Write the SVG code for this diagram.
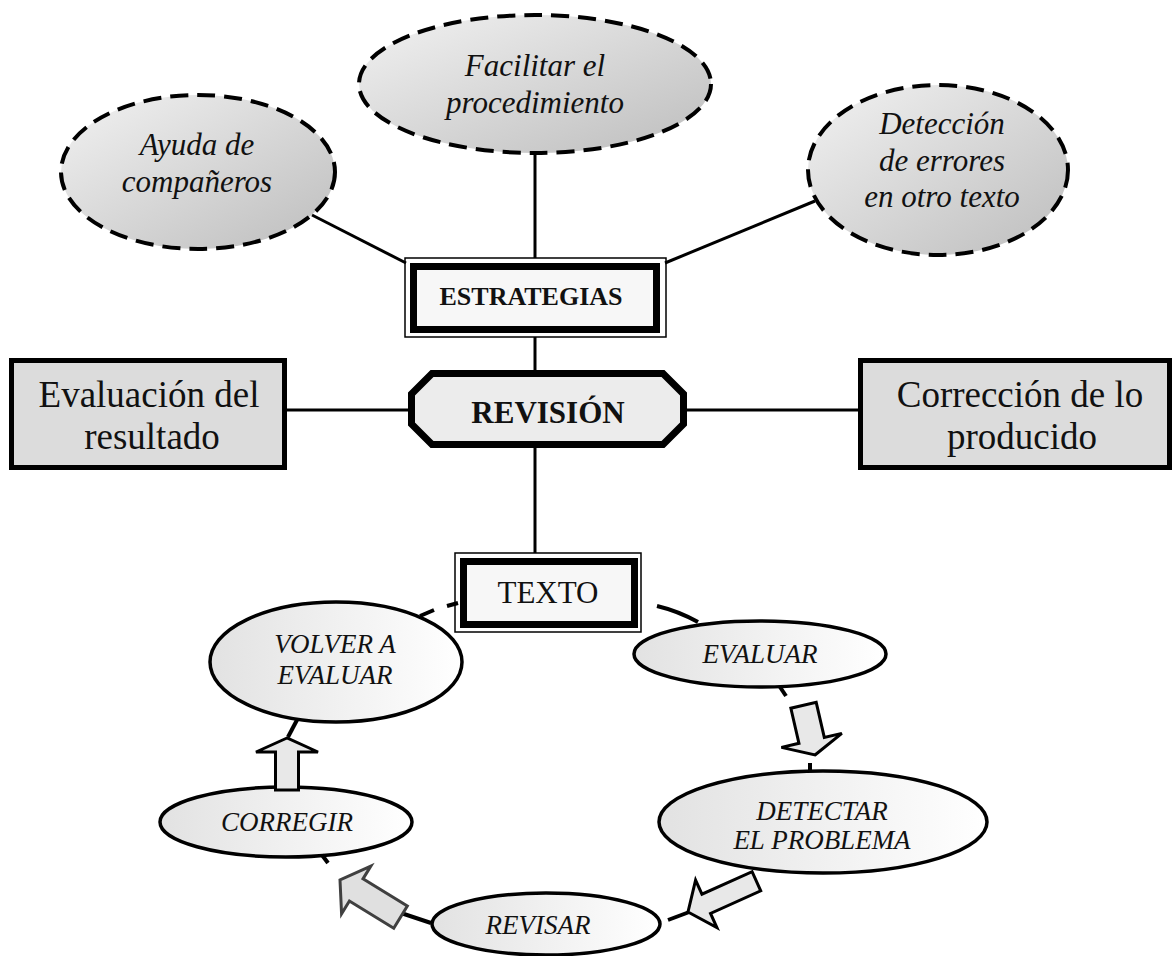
<svg xmlns="http://www.w3.org/2000/svg" width="1174" height="956" viewBox="0 0 1174 956">
<defs>
<linearGradient id="gTop" x1="0" y1="0" x2="1" y2="1">
<stop offset="0" stop-color="#f2f2f2"/>
<stop offset="1" stop-color="#bdbdbd"/>
</linearGradient>
<linearGradient id="gCyc" x1="0" y1="0" x2="1" y2="0">
<stop offset="0" stop-color="#e2e2e2"/>
<stop offset="1" stop-color="#ffffff"/>
</linearGradient>
<style>
.dash{fill:url(#gTop);stroke:#000;stroke-width:4;stroke-dasharray:18 9}
.cyc{fill:url(#gCyc);stroke:#000;stroke-width:3.5}
.ti{font-family:"Liberation Serif","Times New Roman",serif;font-style:italic;font-size:31px;text-anchor:middle;fill:#111}
.ci{font-family:"Liberation Serif","Times New Roman",serif;font-style:italic;font-size:27px;text-anchor:middle;fill:#111}
.big{font-family:"Liberation Serif","Times New Roman",serif;font-size:37px;text-anchor:middle;fill:#111}
.bold{font-family:"Liberation Serif","Times New Roman",serif;font-weight:bold;text-anchor:middle;fill:#111}
.box{fill:#dcdcdc;stroke:#000;stroke-width:5}
.thin{fill:#fff;stroke:#000;stroke-width:1.5}
.thick{fill:#f7f7f7;stroke:#000;stroke-width:7}
.ln{fill:none;stroke:#000;stroke-width:3}
.cl{fill:none;stroke:#000;stroke-width:4}
.arr{fill:#e8e8e8;stroke:#000;stroke-width:3;stroke-linejoin:miter}
.arr2{fill:#e0e0e0;stroke:#404040;stroke-width:3;stroke-linejoin:miter}
</style>
</defs>
<rect width="1174" height="956" fill="#fff"/>

<g id="ayuda">
<ellipse class="dash" cx="198" cy="172" rx="137" ry="77"/>
<text class="ti" x="197" y="155">Ayuda de</text>
<text class="ti" x="197" y="192">compañeros</text>
</g>
<g id="facilitar">
<ellipse class="dash" cx="535" cy="84" rx="176" ry="69"/>
<text class="ti" x="535" y="76">Facilitar el</text>
<text class="ti" x="535" y="113">procedimiento</text>
</g>
<g id="deteccion">
<ellipse class="dash" cx="938" cy="170" rx="130" ry="85"/>
<text class="ti" x="942" y="134">Detección</text>
<text class="ti" x="942" y="171">de errores</text>
<text class="ti" x="942" y="207">en otro texto</text>
</g>
<g id="estrategias">
<rect class="thin" x="405" y="258" width="261" height="79"/>
<rect class="thick" x="413.5" y="266.5" width="243" height="63"/>
<text class="bold" x="531" y="305" font-size="26">ESTRATEGIAS</text>
</g>
<g id="revision">
<path d="M432,373.5 H663 L683.5,394 V424 L663,444.5 H432 L411.5,424 V394 Z" fill="#ececec" stroke="#000" stroke-width="7"/>
<text class="bold" x="548" y="423" font-size="31">REVISIÓN</text>
</g>
<g id="evaluacion">
<rect class="box" x="11.5" y="360.5" width="273" height="107"/>
<text class="big" x="149" y="407">Evaluación del</text>
<text class="big" x="152" y="449">resultado</text>
</g>
<g id="correccion">
<rect class="box" x="860.5" y="360.5" width="309" height="107"/>
<text class="big" x="1020" y="407">Corrección de lo</text>
<text class="big" x="1022" y="449">producido</text>
</g>
<g id="texto">
<rect class="thin" x="455" y="553" width="186" height="79"/>
<rect class="thick" x="463.5" y="561.5" width="171" height="63"/>
<text x="548" y="603" font-family="Liberation Serif, Times New Roman, serif" font-size="31" text-anchor="middle" fill="#111">TEXTO</text>
</g>
<g id="volver">
<ellipse class="cyc" cx="336" cy="662" rx="126" ry="60"/>
<text class="ci" x="335" y="653">VOLVER A</text>
<text class="ci" x="335" y="684">EVALUAR</text>
</g>
<g id="evaluar">
<ellipse class="cyc" cx="760" cy="654" rx="126" ry="33"/>
<text class="ci" x="760" y="663">EVALUAR</text>
</g>
<g id="detectar">
<ellipse class="cyc" cx="823" cy="822" rx="164" ry="51"/>
<text class="ci" x="822" y="820">DETECTAR</text>
<text class="ci" x="822" y="849">EL PROBLEMA</text>
</g>
<g id="revisar">
<ellipse class="cyc" cx="546" cy="924" rx="114" ry="31"/>
<text class="ci" x="538" y="934">REVISAR</text>
</g>
<g id="corregir">
<ellipse class="cyc" cx="286" cy="822" rx="126" ry="35"/>
<text class="ci" x="287" y="831">CORREGIR</text>
</g>

<g id="connectors">
<line class="ln" x1="312" y1="215" x2="406" y2="263"/>
<line class="ln" x1="535" y1="153" x2="535" y2="258"/>
<line class="ln" x1="815" y1="201" x2="665" y2="263"/>
<line class="ln" x1="535" y1="337" x2="535" y2="370"/>
<line class="ln" x1="287" y1="410" x2="408" y2="410"/>
<line class="ln" x1="687" y1="410" x2="858" y2="410"/>
<line class="ln" x1="535" y1="448" x2="535" y2="553"/>
<path class="cl" d="M420,616 L434,610 M447,606 L458,603"/>
<path class="cl" d="M657,606 Q678,611 698,622"/>
<path class="cl" d="M780,687 L786,696"/>
<path class="cl" d="M810,763 L810,772"/>
<path class="cl" d="M668,920 L692,911"/>
<path class="cl" d="M401,913 L431,923"/>
<path class="cl" d="M322,855 L328,863"/>
<path class="cl" d="M288,737 L297,720"/>
<path class="arr" transform="translate(287,738) rotate(180)" d="M0,0 L31,-14 L11.5,-14 L11.5,-52 L-11.5,-52 L-11.5,-14 L-31,-14 Z"/>
<path class="arr" transform="translate(815,755) rotate(-13)" d="M0,0 L31,-15 L13,-15 L13,-51 L-13,-51 L-13,-15 L-31,-15 Z"/>
<path class="arr" transform="translate(688,912) rotate(65.8)" d="M0,0 L26,-20 L10.5,-20 L10.5,-75 L-10.5,-75 L-10.5,-20 L-26,-20 Z"/>
<path class="arr2" transform="translate(340,880) rotate(121.5)" d="M0,0 L28,-19 L13,-19 L13,-71 L-13,-71 L-13,-19 L-28,-19 Z"/>
</g>
</svg>
